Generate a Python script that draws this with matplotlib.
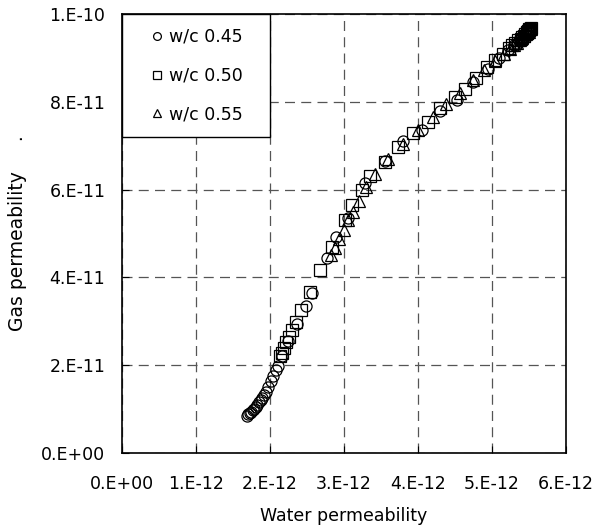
import numpy as np
import matplotlib.pyplot as plt
from matplotlib.ticker import FixedLocator

# w/c 0.45 (circles), permeabilities in units of 1E-12
wc45_water = [1.685, 1.71, 1.73, 1.75, 1.77, 1.79, 1.81, 1.83, 1.855, 1.875, 1.89, 1.92,
              1.95, 1.98, 2.01, 2.045, 2.08, 2.11, 2.16, 2.25, 2.36, 2.49, 2.57, 2.77,
              2.90, 3.05, 3.28, 3.55, 3.80, 4.05, 4.30, 4.53, 4.75, 4.95, 5.10, 5.22,
              5.30, 5.34, 5.37, 5.40, 5.42, 5.44, 5.46, 5.48, 5.49, 5.50, 5.51, 5.52]
wc45_gas = [8.4, 8.8, 9.1, 9.4, 9.7, 10.1, 10.5, 10.9, 11.6, 12.1, 12.5, 13.2,
            14.0, 15.1, 16.4, 17.6, 18.8, 19.9, 22.0, 25.5, 29.5, 33.5, 36.5, 44.5,
            49.2, 53.5, 61.5, 66.5, 71.0, 73.6, 78.0, 80.4, 84.5, 87.5, 90.0, 91.8,
            93.0, 93.5, 94.0, 94.4, 94.8, 95.1, 95.4, 95.7, 95.9, 96.1, 96.3, 96.5]

# w/c 0.50 (squares)
wc50_water = [2.13, 2.16, 2.19, 2.22, 2.26, 2.30, 2.35, 2.42, 2.54, 2.68, 2.84, 3.01,
              3.11, 3.24, 3.35, 3.55, 3.73, 3.93, 4.14, 4.30, 4.50, 4.64, 4.78, 4.93,
              5.04, 5.15, 5.23, 5.28, 5.32, 5.36, 5.39, 5.41, 5.43, 5.45, 5.47, 5.48,
              5.49, 5.50, 5.51, 5.52, 5.53]
wc50_gas = [22.0, 22.8, 24.0, 25.2, 26.5, 28.0, 29.8, 32.5, 36.7, 41.7, 47.0, 53.0,
            56.5, 60.0, 63.0, 66.3, 69.8, 73.0, 75.4, 78.6, 81.0, 83.0, 85.5, 88.0,
            89.5, 91.0, 92.2, 92.9, 93.5, 94.0, 94.4, 94.8, 95.1, 95.4, 95.7, 95.9,
            96.1, 96.3, 96.5, 96.7, 96.9]

# w/c 0.55 (triangles)
wc55_water = [2.82, 2.88, 2.94, 3.00, 3.06, 3.12, 3.20, 3.30, 3.42, 3.60, 3.80, 4.00,
              4.20, 4.38, 4.57, 4.75, 4.90, 5.05, 5.17, 5.24, 5.30, 5.34, 5.38, 5.41,
              5.44, 5.46, 5.48, 5.50, 5.51, 5.53]
wc55_gas = [45.0, 46.8, 48.8, 50.8, 53.0, 55.0, 57.5, 60.5, 63.5, 67.0, 70.5, 73.5,
            76.5, 79.5, 82.0, 85.0, 87.2, 89.3, 91.0, 92.0, 92.9, 93.5, 94.1, 94.6,
            95.0, 95.4, 95.7, 96.0, 96.3, 96.6]

x_ticks = [0, 1e-12, 2e-12, 3e-12, 4e-12, 5e-12, 6e-12]
x_tick_labels = ["0.E+00", "1.E-12", "2.E-12", "3.E-12", "4.E-12", "5.E-12", "6.E-12"]
y_ticks = [0, 2e-11, 4e-11, 6e-11, 8e-11, 1e-10]
y_tick_labels = ["0.E+00", "2.E-11", "4.E-11", "6.E-11", "8.E-11", "1.E-10"]

series = [
    (wc45_water, wc45_gas, 'o', "w/c 0.45"),
    (wc50_water, wc50_gas, 's', "w/c 0.50"),
    (wc55_water, wc55_gas, '^', "w/c 0.55"),
]

fs = 12.5
fig = plt.figure(figsize=(6.07, 5.27), dpi=100)
ax = fig.add_axes([0.201, 0.1404, 0.731, 0.8330])

for xs, ys, mk, lab in series:
    ax.plot(np.array(xs) * 1e-12, np.array(ys) * 1e-12, linestyle='none', marker=mk,
            markersize=8, markerfacecolor='none', markeredgecolor='black',
            markeredgewidth=0.9, label=lab)

ax.set_xlim(0, 6e-12)
ax.set_ylim(0, 1e-10)
ax.xaxis.set_major_locator(FixedLocator(x_ticks))
ax.yaxis.set_major_locator(FixedLocator(y_ticks))
ax.set_xticklabels(x_tick_labels, fontsize=fs)
ax.set_yticklabels(y_tick_labels, fontsize=fs)
ax.tick_params(direction='in', length=5, width=0.8, pad=16)
ax.tick_params(axis='y', pad=12)

ax.grid(True, color='#555555', linestyle=(0, (8, 5)), linewidth=0.9)
ax.set_axisbelow(True)
for s in ax.spines.values():
    s.set_linewidth(1.2)

ax.set_xlabel("Water permeability", fontsize=fs, labelpad=10)
ax.set_ylabel("Gas permeability     .", fontsize=13.5, labelpad=10)

leg = ax.legend(loc='upper left', bbox_to_anchor=(0, 0.7, 0.333, 0.3), mode='expand',
                borderaxespad=0, fontsize=fs, frameon=True, fancybox=False,
                edgecolor='black', framealpha=1, handlelength=2.4, handletextpad=-0.5,
                labelspacing=1.2, borderpad=0.8, markerscale=0.7)
leg.get_frame().set_linewidth(1.0)

plt.savefig("out.png", dpi=100)
